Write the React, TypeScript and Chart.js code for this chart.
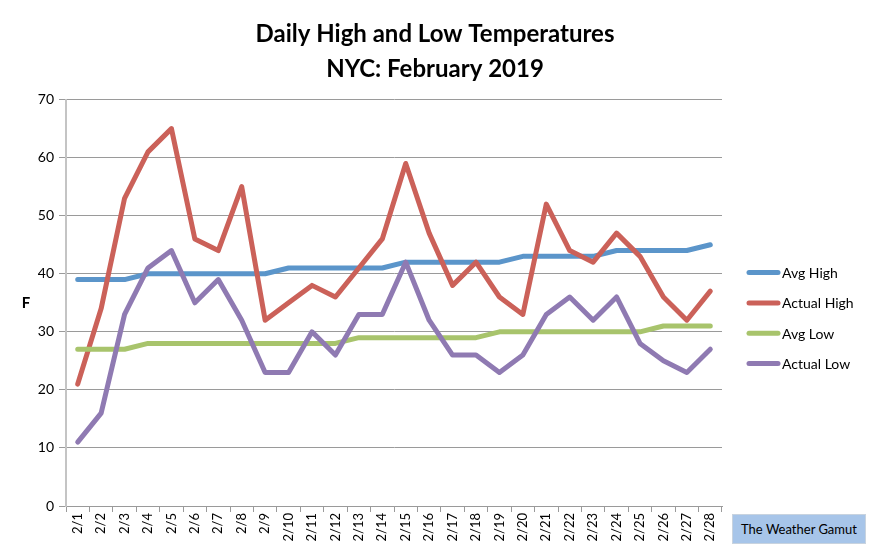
import { useEffect, useRef } from "react"
import { Chart, registerables } from "chart.js"

Chart.register(...registerables)

const days = [
  "2/1", "2/2", "2/3", "2/4", "2/5", "2/6", "2/7", "2/8", "2/9", "2/10",
  "2/11", "2/12", "2/13", "2/14", "2/15", "2/16", "2/17", "2/18", "2/19", "2/20",
  "2/21", "2/22", "2/23", "2/24", "2/25", "2/26", "2/27", "2/28",
]

const avgHigh = [39, 39, 39, 40, 40, 40, 40, 40, 40, 41, 41, 41, 41, 41, 42, 42, 42, 42, 42, 43, 43, 43, 43, 44, 44, 44, 44, 45]
const actualHigh = [21, 34, 53, 61, 65, 46, 44, 55, 32, 35, 38, 36, 41, 46, 59, 47, 38, 42, 36, 33, 52, 44, 42, 47, 43, 36, 32, 37]
const avgLow = [27, 27, 27, 28, 28, 28, 28, 28, 28, 28, 28, 28, 29, 29, 29, 29, 29, 29, 30, 30, 30, 30, 30, 30, 30, 31, 31, 31]
const actualLow = [11, 16, 33, 41, 44, 35, 39, 32, 23, 23, 30, 26, 33, 33, 42, 32, 26, 26, 23, 26, 33, 36, 32, 36, 28, 25, 23, 27]

const seriesNames = ["Avg High", "Actual High", "Avg Low", "Actual Low"]
const seriesColors = ["#5b95ca", "#cb6159", "#a8c46c", "#8f7ab2"]

const yTicks = [0, 10, 20, 30, 40, 50, 60, 70]

const FONT = "Lato, 'Open Sans', sans-serif"

// legend on the right + the "F" axis label
const sidePlugin = {
  id: "sideBits",
  afterDraw(chart: Chart) {
    const { ctx, chartArea } = chart
    ctx.save()
    chart.data.datasets.forEach((ds, i) => {
      const y = chartArea.top + 173 + i * 30.3
      const x0 = chartArea.right + 27
      ctx.strokeStyle = ds.borderColor as string
      ctx.lineWidth = 5
      ctx.lineCap = "round"
      ctx.beginPath()
      ctx.moveTo(x0, y)
      ctx.lineTo(x0 + 29, y)
      ctx.stroke()
      ctx.fillStyle = "#000"
      ctx.font = `14px ${FONT}`
      ctx.textBaseline = "middle"
      ctx.textAlign = "left"
      ctx.fillText(ds.label as string, x0 + 33, y + 1)
    })
    ctx.font = `bold 15px ${FONT}`
    ctx.textAlign = "center"
    ctx.textBaseline = "middle"
    ctx.fillText("F", 26, (chartArea.top + chartArea.bottom) / 2)
    ctx.restore()
  },
}

export default function App() {
  const chartRef = useRef<HTMLCanvasElement>(null)
  const chartInstance = useRef<Chart | null>(null)

  useEffect(() => {
    if (!chartRef.current) return
    if (chartInstance.current) chartInstance.current.destroy()
    const ctx = chartRef.current.getContext("2d")
    if (!ctx) return

    const values = [avgHigh, actualHigh, avgLow, actualLow]

    chartInstance.current = new Chart(ctx, {
      type: "line",
      data: {
        labels: days,
        datasets: values.map((data, i) => ({
          label: seriesNames[i],
          data,
          borderColor: seriesColors[i],
          backgroundColor: seriesColors[i],
          borderWidth: 5,
          pointRadius: 0,
          tension: 0,
          borderCapStyle: "round" as const,
          borderJoinStyle: "round" as const,
          order: values.length - 1 - i,
        })),
      },
      plugins: [sidePlugin],
      options: {
        animation: false,
        responsive: true,
        maintainAspectRatio: false,
        layout: { padding: 0 },
        scales: {
          x: {
            offset: true,
            grid: {
              offset: true,
              drawOnChartArea: false,
              tickLength: 6,
              color: "#9a9a9a",
            },
            border: { color: "#9a9a9a", width: 1 },
            ticks: {
              autoSkip: false,
              maxRotation: 90,
              minRotation: 90,
              padding: 1,
              color: "#000",
              font: { family: FONT, size: 13 },
            },
            afterFit: (scale) => {
              scale.height = 47
            },
          },
          y: {
            min: 0,
            max: 70,
            afterBuildTicks: (scale) => {
              scale.ticks = yTicks.map((v) => ({ value: v }))
            },
            grid: {
              color: "#9a9a9a",
              lineWidth: 1,
              tickLength: 7,
            },
            border: { color: "#c4c4c4", width: 2 },
            ticks: {
              padding: 5,
              color: "#000",
              font: { family: FONT, size: 14 },
            },
            afterFit: (scale) => {
              scale.width = 66
            },
          },
          // empty right-hand axis that only reserves room for the legend
          side: {
            position: "right",
            min: 0,
            max: 70,
            grid: { display: false },
            border: { display: false },
            ticks: { display: false },
            afterFit: (scale) => {
              scale.width = 148
            },
          },
        },
        plugins: {
          legend: { display: false },
          tooltip: { enabled: false },
          title: {
            display: true,
            text: ["Daily High and Low Temperatures", "NYC: February 2019"],
            color: "#000",
            font: { family: FONT, size: 24, weight: "bold", lineHeight: 1.45 },
            padding: { top: 17, bottom: 13 },
          },
        },
      },
    })

    return () => {
      if (chartInstance.current) {
        chartInstance.current.destroy()
        chartInstance.current = null
      }
    }
  }, [])

  return (
    <div style={{ position: "absolute", left: 0, top: 0, width: 870, height: 553, background: "#fff" }}>
      <canvas ref={chartRef} />
      <div
        style={{
          position: "absolute",
          left: 732,
          top: 514,
          width: 132,
          height: 28,
          background: "#a7c5e9",
          border: "1px solid #c8d3df",
          fontFamily: FONT,
          fontSize: 13,
          color: "#000",
          display: "flex",
          alignItems: "center",
          justifyContent: "center",
        }}
      >
        The Weather Gamut
      </div>
    </div>
  )
}
